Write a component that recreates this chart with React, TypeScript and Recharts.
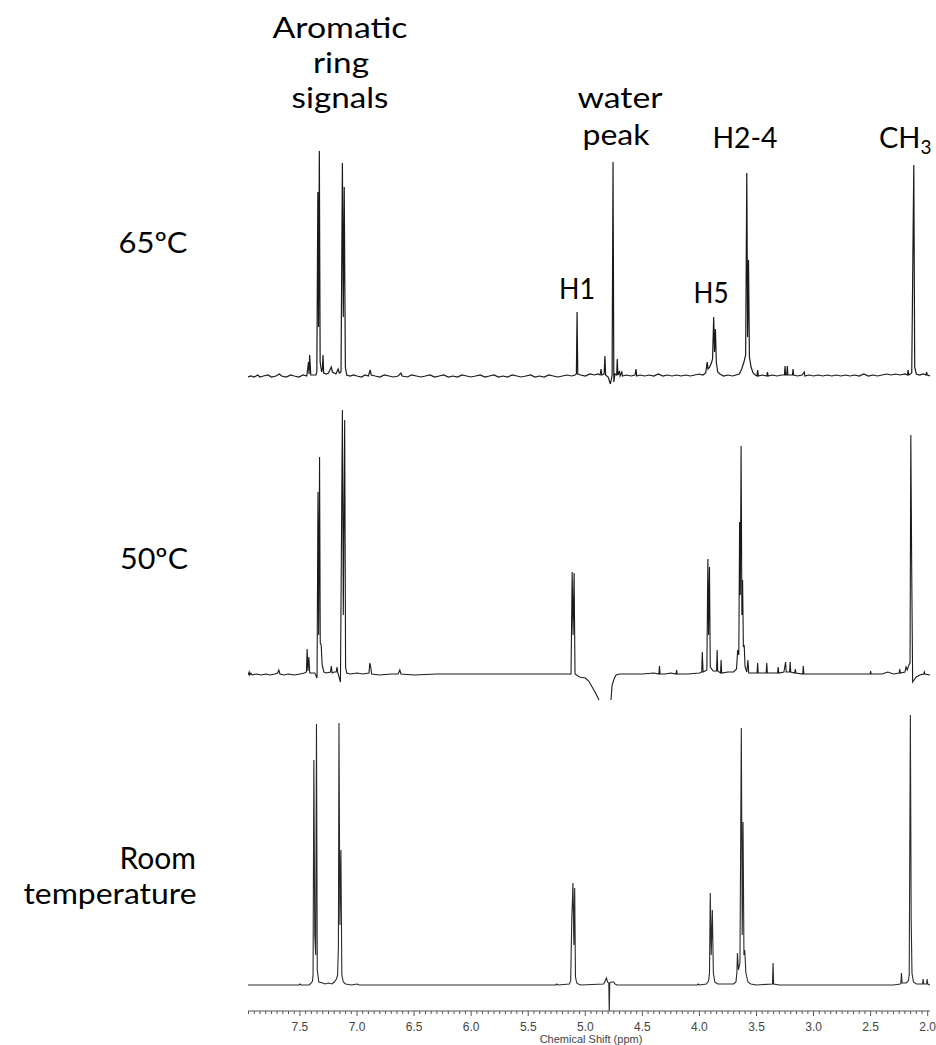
import React from "react";
import { LineChart, Line, XAxis, YAxis } from "recharts";

// Chemical shift (ppm) / relative intensity pairs
const spectrum65: [number, number][] = [
  [7.955,0],[7.93,1],[7.9,0],[7.87,2],[7.85,0],[7.82,1],[7.78,2],[7.75,0],[7.71,1],[7.68,3],[7.66,1],[7.62,0],[7.58,2],[7.55,1],[7.51,0],[7.47,2],
  [7.44,1],[7.425,15],[7.42,3],[7.415,22],[7.405,2],
  [7.36,2],[7.352,5],[7.343,185],[7.337,50],[7.33,226],[7.323,15],[7.31,5],[7.303,8],[7.298,22],[7.292,4],[7.27,3],[7.25,4],[7.225,10],[7.215,5],[7.2,4],[7.185,3],[7.165,8],[7.155,4],[7.14,5],
  [7.128,214],[7.12,60],[7.112,190],[7.102,10],[7.09,2],[7.06,1],[7.03,2],[7.0,1],[6.96,0],[6.93,2],[6.9,1],[6.885,7],[6.875,2],[6.84,1],[6.8,0],[6.76,2],[6.72,1],[6.68,0],[6.64,1],[6.615,4],[6.605,1],[6.56,0],[6.52,2],[6.48,1],[6.44,0],[6.4,1],[6.36,2],[6.32,0],[6.28,1],[6.24,2],[6.2,0],[6.16,1],[6.12,0],[6.08,2],[6.04,1],[6.0,0],[5.96,1],[5.92,2],[5.88,0],[5.84,1],[5.8,2],[5.76,0],[5.72,1],[5.68,0],[5.64,2],[5.6,1],[5.56,0],[5.52,1],[5.48,2],[5.44,0],[5.4,1],[5.36,0],[5.32,2],[5.28,1],[5.24,0],[5.2,1],[5.16,2],[5.12,1],[5.09,2],
  [5.078,3],[5.072,65],[5.066,3],[5.04,2],[5.0,1],[4.96,3],[4.92,2],[4.89,3],[4.87,2],[4.862,8],[4.856,2],[4.835,3],[4.828,21],[4.822,2],[4.8,0],[4.78,-7],[4.765,2],[4.757,215],[4.75,-5],[4.74,3],[4.725,2],[4.72,18],[4.714,2],[4.7,6],[4.695,1],[4.68,5],[4.674,1],[4.64,2],[4.6,1],[4.565,2],[4.555,8],[4.55,1],[4.52,2],[4.48,1],[4.44,2],[4.4,1],[4.36,3],[4.32,1],[4.28,2],[4.24,1],[4.2,2],[4.16,1],[4.12,2],[4.08,1],[4.04,2],[4.0,3],[3.97,2],[3.945,4],[3.932,15],[3.925,8],[3.91,10],[3.895,14],[3.885,18],[3.875,60],[3.868,25],[3.86,48],[3.852,15],[3.84,5],[3.82,3],[3.79,1],[3.75,2],[3.71,1],[3.68,2],[3.65,3],[3.63,8],[3.61,15],[3.595,22],[3.585,204],[3.578,40],[3.57,117],[3.562,20],[3.548,10],[3.53,4],[3.51,2],[3.496,1],[3.49,7],[3.484,1],[3.45,2],[3.41,1],[3.404,5],[3.398,1],[3.36,2],[3.32,1],[3.28,2],[3.255,2],[3.25,11],[3.245,2],[3.235,2],[3.23,11],[3.225,2],[3.185,2],[3.18,8],[3.175,2],[3.14,1],[3.1,2],[3.082,5],[3.076,1],[3.04,2],[3.0,1],[2.96,2],[2.92,1],[2.88,2],[2.84,1],[2.8,2],[2.76,1],[2.72,2],[2.68,1],[2.64,2],[2.6,1],[2.56,3],[2.52,1],[2.48,2],[2.44,1],[2.4,2],[2.36,3],[2.32,2],[2.28,3],[2.24,2],[2.2,3],[2.178,2],[2.172,7],[2.166,2],[2.14,4],[2.128,143],[2.122,212],[2.114,10],[2.1,3],[2.07,2],[2.04,3],[2.015,2],[2.01,5],[2.004,2],[1.98,1],
];

const spectrum50: [number, number | null][] = [
  [7.955,0],[7.945,3],[7.94,0],[7.93,2],[7.92,0],[7.88,1],[7.84,0],[7.8,1],[7.76,0],[7.72,1],[7.695,2],[7.685,5],[7.675,1],[7.64,0],[7.6,1],[7.55,0],[7.5,1],[7.46,2],
  [7.443,3],[7.437,26],[7.43,4],[7.422,18],[7.414,2],[7.37,2],[7.35,-3],[7.342,183],[7.336,40],[7.328,218],[7.322,32],[7.314,30],[7.305,10],[7.29,3],[7.27,2],[7.232,3],[7.225,9],[7.218,2],[7.2,3],[7.182,3],[7.175,8],[7.168,2],[7.145,-7],
  [7.128,265],[7.12,60],[7.108,255],[7.1,8],[7.09,2],[7.06,1],[7.0,2],[6.95,1],[6.895,2],[6.888,12],[6.88,8],[6.872,1],[6.8,0],[6.7,1],[6.64,1],[6.625,5],[6.615,1],[6.5,0],[6.3,1],[6.0,1],[5.7,1],[5.4,1],[5.2,1],[5.125,1],[5.115,103],[5.107,40],[5.098,102],[5.09,1],[5.05,-2],[5.0,-3],[4.97,-6],[4.94,-12],[4.91,-18],[4.88,-25],[4.82,null],[4.775,-25],[4.765,-10],[4.745,-3],[4.73,0],[4.7,1],[4.6,1],[4.5,1],[4.4,2],[4.355,1],[4.35,9],[4.345,1],[4.3,1],[4.25,2],[4.205,1],[4.2,5],[4.195,1],[4.1,1],[4.0,2],[3.98,3],[3.975,23],[3.968,3],[3.935,5],[3.926,116],[3.92,40],[3.912,108],[3.905,8],[3.88,4],[3.85,4],[3.845,25],[3.84,4],[3.815,2],[3.81,15],[3.805,2],[3.75,3],[3.7,3],[3.675,6],[3.665,25],[3.655,20],[3.648,153],[3.642,80],[3.635,229],[3.628,60],[3.622,95],[3.615,28],[3.608,30],[3.6,8],[3.585,3],[3.575,15],[3.568,2],[3.52,2],[3.495,2],[3.49,12],[3.485,2],[3.415,2],[3.41,12],[3.405,2],[3.36,2],[3.315,2],[3.31,8],[3.305,2],[3.26,3],[3.245,13],[3.24,3],[3.21,3],[3.205,13],[3.2,3],[3.165,2],[3.16,6],[3.155,2],[3.095,1],[3.09,9],[3.085,1],[3.0,1],[2.8,1],[2.6,1],[2.505,1],[2.5,4],[2.495,1],[2.4,1],[2.35,3],[2.3,1],[2.25,2],[2.245,6],[2.24,2],[2.2,3],[2.19,8],[2.18,5],[2.165,10],[2.155,12],[2.148,240],[2.14,102],[2.132,-7],[2.12,-5],[2.1,-2],[2.07,0],[2.035,1],[2.03,3],[2.025,1],[1.98,0],
];

const spectrumRT: [number, number][] = [
  [7.955,0],[7.51,0],[7.5,1],[7.49,0],[7.42,0],[7.4,2],[7.39,4],[7.385,10],[7.378,225],[7.37,50],[7.362,30],[7.355,261],[7.348,15],[7.335,3],[7.3,2],[7.28,1],[7.25,2],[7.22,1],[7.2,3],[7.18,6],[7.17,10],[7.163,38],[7.158,262],[7.15,60],[7.141,135],[7.133,10],[7.12,3],[7.1,1],[7.05,0],[7.0,1],[6.98,0],[5.26,0],[5.25,1],[5.24,0],[5.14,1],[5.128,4],[5.118,67],[5.108,102],[5.1,40],[5.093,97],[5.086,8],[5.075,2],[5.06,1],[5.04,0],[4.84,1],[4.825,4],[4.815,7],[4.805,3],[4.794,2],[4.79,-28],[4.786,2],[4.77,3],[4.75,3],[4.74,1],[4.72,0],[4.02,0],[4.01,1],[4.0,0],[3.94,1],[3.92,4],[3.912,12],[3.905,92],[3.897,30],[3.887,75],[3.878,12],[3.865,3],[3.84,1],[3.7,1],[3.68,3],[3.672,12],[3.667,32],[3.658,15],[3.645,22],[3.633,257],[3.625,50],[3.618,163],[3.61,30],[3.603,35],[3.593,12],[3.575,3],[3.55,1],[3.5,0],[3.36,1],[3.355,22],[3.35,1],[3.3,0],[2.3,0],[2.24,1],[2.235,2],[2.23,12],[2.225,2],[2.19,2],[2.17,4],[2.162,10],[2.152,270],[2.145,67],[2.138,12],[2.125,3],[2.1,1],[2.045,1],[2.04,6],[2.035,1],[2.01,1],[2.005,6],[2.0,1],[1.98,0],
];

const majorTicks = [7.5, 7.0, 6.5, 6.0, 5.5, 5.0, 4.5, 4.0, 3.5, 3.0, 2.5, 2.0];
const axisTitle = "Chemical Shift (ppm)";
const temperatureLabels = ["65ºC", "50ºC", "Room", "temperature"];

// vertical stacking of the three traces (chart units = px above axis)
const OFFSET_65 = 634;
const OFFSET_50 = 336;
const OFFSET_RT = 26;

const toPoints = (arr: [number, number | null][], offset: number) =>
  arr.map(([x, h]) => ({ x, y: h === null ? null : h + offset }));

const data65 = toPoints(spectrum65, OFFSET_65);
const data50 = toPoints(spectrum50, OFFSET_50);
const dataRT = toPoints(spectrumRT, OFFSET_RT);

const allTicks: number[] = [];
for (let i = 40; i <= 159; i++) allTicks.push(Math.round(i * 5) / 100);

const isMajor = (v: number) => majorTicks.some((m) => Math.abs(m - v) < 1e-6);

const AxisTick = (props: any) => {
  const { x, y, payload } = props;
  const v = payload.value as number;
  const major = isMajor(v);
  return (
    <g>
      <line x1={x} x2={x} y1={y} y2={y + (major ? 5 : 3)} stroke="#555" strokeWidth={1} />
      {major && (
        <text
          x={x}
          y={y + 20}
          textAnchor="middle"
          fontFamily="'Liberation Sans Narrow', 'Liberation Sans', Arial, sans-serif"
          fontSize={12}
          fill="#444"
        >
          {v.toFixed(1)}
        </text>
      )}
    </g>
  );
};

const labelFont = "Lato, 'Open Sans', sans-serif";

const Label = ({ x, y, w, children }: { x: number; y: number; w?: number; children: React.ReactNode }) => (
  <text
    x={x}
    y={y}
    textAnchor="middle"
    textLength={w}
    lengthAdjust={w ? "spacingAndGlyphs" : undefined}
  >
    {children}
  </text>
);

export default function App() {
  return (
    <div style={{ position: "absolute", left: 0, top: 0, width: 936, height: 1045, background: "#fff" }}>
      <LineChart
        width={936}
        height={1045}
        margin={{ top: 100, right: 6, bottom: 4, left: 248 }}
      >
        <XAxis
          type="number"
          dataKey="x"
          domain={[1.98, 7.955]}
          reversed
          allowDataOverflow
          ticks={allTicks}
          interval={0}
          tickLine={false}
          tickSize={0}
          tickMargin={0}
          tick={<AxisTick />}
          axisLine={{ stroke: "#555", strokeWidth: 1 }}
          height={30}
        />
        <YAxis type="number" domain={[0, 911]} hide allowDataOverflow />
        <Line data={data65} dataKey="y" type="linear" dot={false} stroke="#1a1a1a" strokeWidth={1.2} isAnimationActive={false} />
        <Line data={data50} dataKey="y" type="linear" dot={false} stroke="#1a1a1a" strokeWidth={1.1} isAnimationActive={false} />
        <Line data={dataRT} dataKey="y" type="linear" dot={false} stroke="#2a2a2a" strokeWidth={1.1} isAnimationActive={false} />
        <text x={591} y={1043} textAnchor="middle" fontFamily="'Liberation Sans', Arial, sans-serif" fontSize={11} fill="#444">
          {axisTitle}
        </text>
        <g fontFamily={labelFont} fontSize={29} fill="#000">
          <Label x={340} y={38} w={135}>Aromatic</Label>
          <Label x={341} y={73} w={56}>ring</Label>
          <Label x={340} y={108} w={97}>signals</Label>
          <Label x={620} y={108} w={85}>water</Label>
          <Label x={616} y={145} w={67}>peak</Label>
          <Label x={745} y={148} w={65}>H2-4</Label>
          <text x={879} y={148} textAnchor="start">
            <tspan>CH</tspan>
            <tspan fontSize={19} dy={6}>3</tspan>
          </text>
          <Label x={577} y={299} w={36}>H1</Label>
          <Label x={711} y={303} w={35}>H5</Label>
          <Label x={153} y={253} w={69}>{temperatureLabels[0]}</Label>
          <Label x={154} y={569} w={68}>{temperatureLabels[1]}</Label>
          <text x={196} y={869} textAnchor="end" fontSize={30}>{temperatureLabels[2]}</text>
          <Label x={110} y={904} w={173}>{temperatureLabels[3]}</Label>
        </g>
      </LineChart>
    </div>
  );
}
